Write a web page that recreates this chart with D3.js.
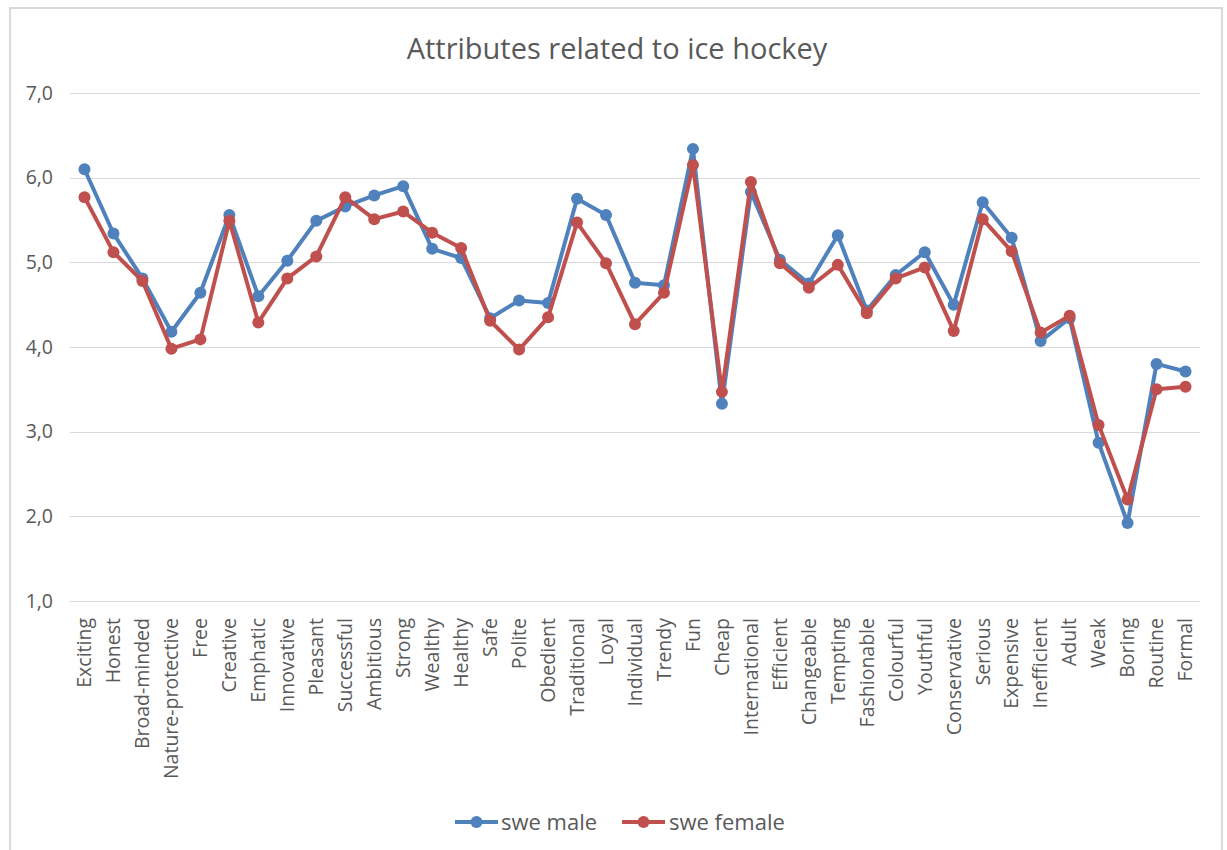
<!DOCTYPE html>
<html>
<head>
<meta charset="utf-8">
<script src="https://cdn.jsdelivr.net/npm/d3@7"></script>
<style>
  html, body { margin: 0; padding: 0; background: #fff; }
  svg { display: block; font-family: "Open Sans", "Segoe UI", sans-serif; }
</style>
</head>
<body>
<svg id="chart" width="1227" height="850"></svg>
<script>
const categories = ["Exciting","Honest","Broad-minded","Nature-protective","Free","Creative","Emphatic","Innovative","Pleasant","Successful","Ambitious","Strong","Wealthy","Healthy","Safe","Polite","Obedient","Traditional","Loyal","Individual","Trendy","Fun","Cheap","International","Efficient","Changeable","Tempting","Fashionable","Colourful","Youthful","Conservative","Serious","Expensive","Inefficient","Adult","Weak","Boring","Routine","Formal"];
const sweMale = [6.10,5.34,4.81,4.18,4.64,5.56,4.60,5.02,5.49,5.66,5.79,5.90,5.16,5.05,4.34,4.55,4.52,5.75,5.56,4.76,4.73,6.34,3.33,5.83,5.03,4.75,5.32,4.43,4.85,5.12,4.50,5.71,5.29,4.07,4.34,2.87,1.92,3.80,3.71];
const sweFemale = [5.77,5.12,4.78,3.98,4.09,5.49,4.29,4.81,5.07,5.77,5.51,5.60,5.35,5.17,4.31,3.97,4.35,5.47,4.99,4.27,4.64,6.15,3.47,5.95,4.99,4.70,4.97,4.40,4.81,4.94,4.19,5.51,5.13,4.17,4.37,3.08,2.20,3.50,3.53];
const yTicks = [1,2,3,4,5,6,7];
const seriesNames = ["swe male","swe female"];
const seriesColors = ["#4f81bd","#c0504d"];
const title = "Attributes related to ice hockey";

const svg = d3.select("#chart");

// chart border
svg.append("rect").attr("x",10).attr("y",8).attr("width",1212).attr("height",850)
  .attr("fill","#fff").attr("stroke","#d9d9d9").attr("stroke-width",2);

const x = d3.scaleBand().domain(categories).range([70,1200]);
const y = d3.scaleLinear().domain([1,7]).range([601,93]);

// title
svg.append("text").attr("x",617).attr("y",59).attr("text-anchor","middle")
  .attr("font-size",29).attr("fill","#595959").text(title);

// gridlines
svg.append("g").selectAll("line").data(yTicks).join("line")
  .attr("x1",70).attr("x2",1200)
  .attr("y1",d=>Math.round(y(d))+0.5).attr("y2",d=>Math.round(y(d))+0.5)
  .attr("stroke","#d9d9d9").attr("stroke-width",1);

// y axis labels
const yAxis = d3.axisLeft(y).tickValues(yTicks).tickSize(0).tickPadding(0)
  .tickFormat(d => d3.format(".1f")(d).replace(".", ","));
const gy = svg.append("g").attr("transform","translate(53,0)").call(yAxis);
gy.select(".domain").remove();
gy.selectAll("text").attr("font-size",19.5).attr("fill","#595959")
  .attr("font-family","'Open Sans', sans-serif");

// x axis labels
const xAxis = d3.axisBottom(x).tickSize(0).tickPadding(0);
const gx = svg.append("g").attr("transform","translate(0,618)").call(xAxis);
gx.select(".domain").remove();
gx.selectAll("text")
  .attr("font-size",19.5).attr("fill","#595959")
  .attr("font-family","'Open Sans', sans-serif")
  .attr("text-anchor","end")
  .attr("transform","rotate(-90)")
  .attr("x",0).attr("y",0).attr("dx",0).attr("dy","0.35em");

// series
const series = [sweMale, sweFemale];
const line = d3.line().x((d,i)=>x(categories[i]) + x.bandwidth()/2).y(d=>y(d));
series.forEach((vals, si) => {
  const g = svg.append("g");
  g.append("path").datum(vals).attr("d",line).attr("fill","none")
    .attr("stroke",seriesColors[si]).attr("stroke-width",4)
    .attr("stroke-linejoin","round").attr("stroke-linecap","round");
  g.selectAll("circle").data(vals).join("circle")
    .attr("cx",(d,i)=>x(categories[i]) + x.bandwidth()/2)
    .attr("cy",d=>y(d)).attr("r",6).attr("fill",seriesColors[si]);
});

// legend
const legendItems = [{x:455, tx:501},{x:622, tx:669}];
seriesNames.forEach((name, i) => {
  const lg = svg.append("g");
  const lx = legendItems[i].x;
  lg.append("line").attr("x1",lx).attr("x2",lx+43).attr("y1",822).attr("y2",822)
    .attr("stroke",seriesColors[i]).attr("stroke-width",4);
  lg.append("circle").attr("cx",lx+21.5).attr("cy",822).attr("r",6).attr("fill",seriesColors[i]);
  lg.append("text").attr("x",legendItems[i].tx).attr("y",822).attr("dy","0.35em")
    .attr("font-size",22).attr("fill","#595959").text(name);
});
</script>
</body>
</html>
